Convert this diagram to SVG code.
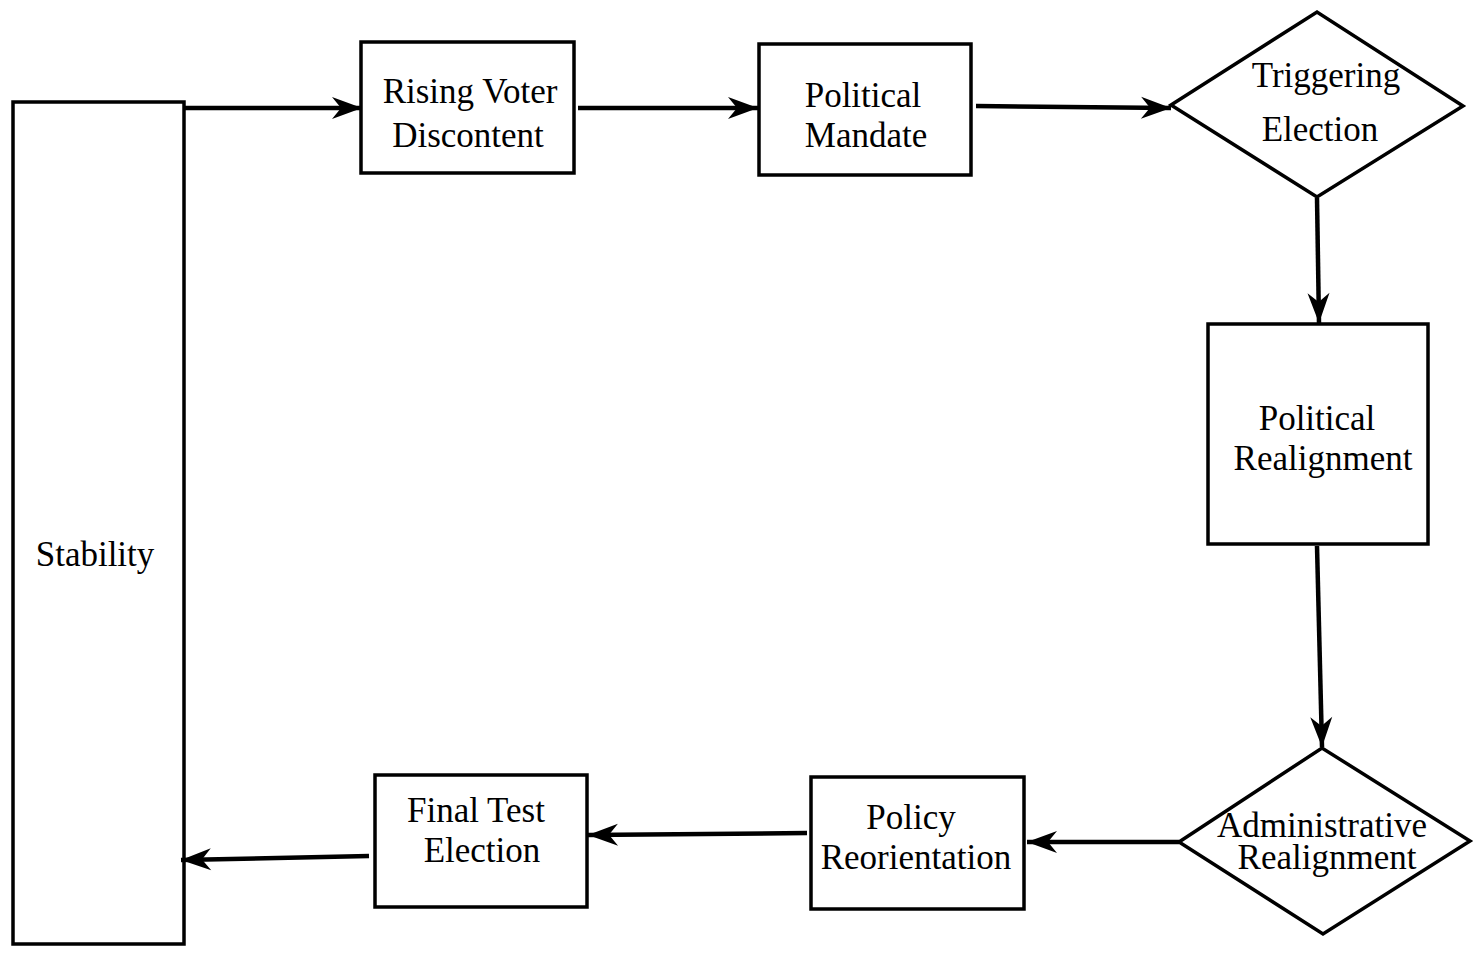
<svg xmlns="http://www.w3.org/2000/svg" width="1480" height="960" viewBox="0 0 1480 960">
<style>
.n{fill:#fff;stroke:#000;stroke-width:3.5}
.t{font-family:"Liberation Serif","Times New Roman",serif;font-size:35px;fill:#000;text-anchor:middle}
.c{stroke:#000;stroke-width:4.5;fill:none;marker-end:url(#ah)}
</style>
<defs>
<marker id="ah" markerUnits="userSpaceOnUse" viewBox="-32 -13 34 26" refX="0" refY="0" markerWidth="34" markerHeight="26" orient="auto">
<path d="M0,0 L-30,-11 L-21,0 L-30,11 Z" fill="#000"/>
</marker>
</defs>
<rect width="1480" height="960" fill="#fff"/>
<g id="stability"><rect class="n" x="13" y="102" width="171" height="842"/><text class="t" x="95" y="566">Stability</text></g>
<g id="rising"><rect class="n" x="361" y="42" width="213" height="131"/><text class="t" x="470" y="103">Rising Voter</text><text class="t" x="468" y="147">Discontent</text></g>
<g id="mandate"><rect class="n" x="759" y="44" width="212" height="131"/><text class="t" x="863" y="107">Political</text><text class="t" x="866" y="147">Mandate</text></g>
<g id="triggering"><polygon class="n" points="1171,105 1317,12 1463,106 1317,197"/><text class="t" x="1326" y="87">Triggering</text><text class="t" x="1320" y="141">Election</text></g>
<g id="realignment"><rect class="n" x="1208" y="324" width="220" height="220"/><text class="t" x="1317" y="430">Political</text><text class="t" x="1323" y="470">Realignment</text></g>
<g id="admin"><polygon class="n" points="1179,842 1322,748 1470,841 1323,934"/><text class="t" x="1322" y="837">Administrative</text><text class="t" x="1327" y="869">Realignment</text></g>
<g id="policy"><rect class="n" x="811" y="777" width="213" height="132"/><text class="t" x="911" y="829">Policy</text><text class="t" x="916" y="869">Reorientation</text></g>
<g id="final"><rect class="n" x="375" y="775" width="212" height="132"/><text class="t" x="476" y="822">Final Test</text><text class="t" x="482" y="862">Election</text></g>
<g id="connectors">
<line class="c" x1="184" y1="108" x2="362" y2="108"/>
<line class="c" x1="578" y1="108" x2="758" y2="108"/>
<line class="c" x1="976" y1="106" x2="1171" y2="108"/>
<line class="c" x1="1317" y1="198" x2="1319" y2="323"/>
<line class="c" x1="1317" y1="546" x2="1322" y2="747"/>
<line class="c" x1="1179" y1="842" x2="1027" y2="842"/>
<line class="c" x1="807" y1="833" x2="588" y2="835"/>
<line class="c" x1="369" y1="856" x2="181" y2="860"/>
</g>
</svg>
